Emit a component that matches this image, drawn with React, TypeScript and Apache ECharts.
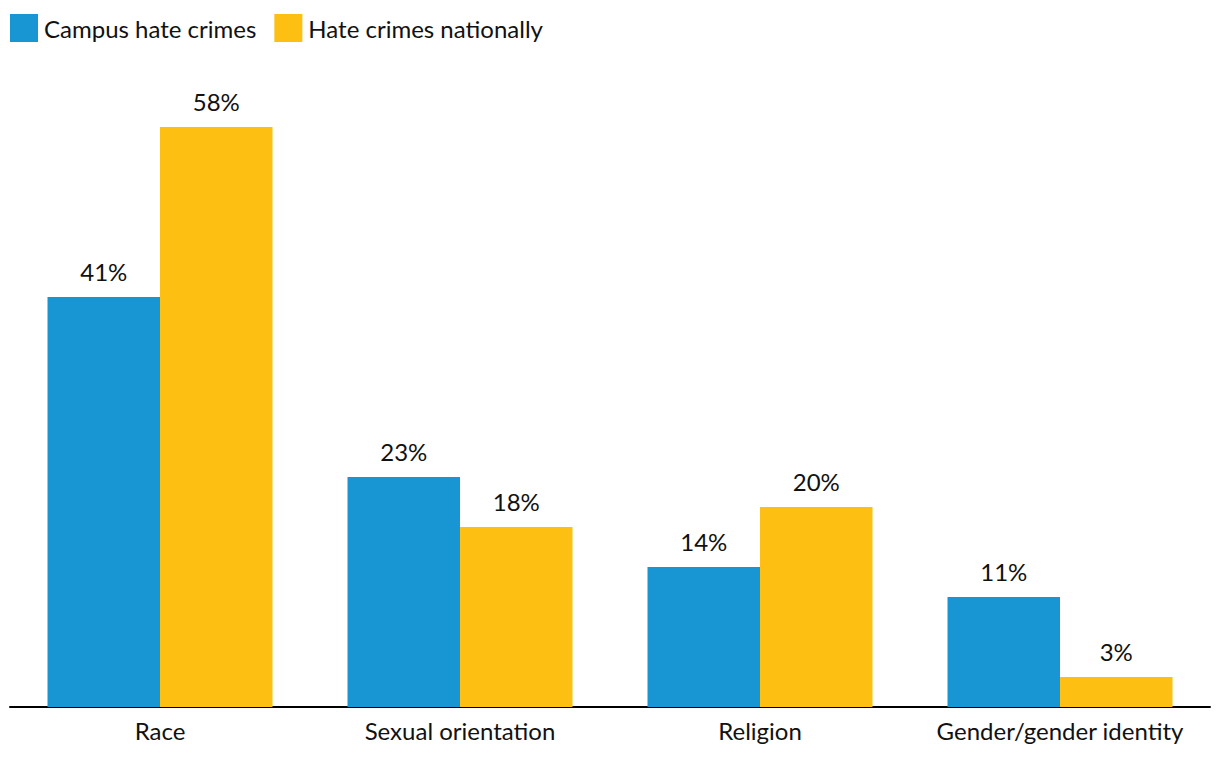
import React, { useEffect, useRef } from "react";
import * as echarts from "echarts";

const categories = ["Race", "Sexual orientation", "Religion", "Gender/gender identity"];
const campusValues = [41, 23, 14, 11];
const nationalValues = [58, 18, 20, 3];
const seriesNames = ["Campus hate crimes", "Hate crimes nationally"];

export default function App() {
  const ref = useRef<HTMLDivElement>(null);
  useEffect(() => {
    if (!ref.current) return;
    const chart = echarts.init(ref.current, undefined, { renderer: "svg" });
    const font = "Lato, 'Noto Sans', sans-serif";
    const labelStyle = {
      show: true,
      position: "top",
      distance: 14,
      formatter: "{c}%",
      fontSize: 24,
      color: "#111",
      fontFamily: font,
    };
    chart.setOption({
      animation: false,
      textStyle: { fontFamily: font },
      legend: {
        left: 10,
        top: 14,
        padding: 0,
        icon: "rect",
        itemWidth: 28,
        itemHeight: 28,
        itemGap: 18,
        textStyle: { fontSize: 24, color: "#111", fontFamily: font, padding: [0, 0, 0, 1] },
        data: seriesNames,
      },
      grid: { left: 10, right: 10, top: 107, bottom: 57 },
      xAxis: {
        type: "category",
        data: categories,
        axisTick: { show: false },
        axisLine: { lineStyle: { color: "#000", width: 2 } },
        axisLabel: { interval: 0, fontSize: 24, color: "#111", margin: 11, fontFamily: font },
      },
      yAxis: {
        type: "value",
        min: 0,
        max: 60,
        show: false,
        splitLine: { show: false },
      },
      series: [
        {
          name: seriesNames[0],
          type: "bar",
          data: campusValues,
          barGap: "0%",
          barCategoryGap: "25%",
          itemStyle: { color: "#1896d3" },
          label: labelStyle,
        },
        {
          name: seriesNames[1],
          type: "bar",
          data: nationalValues,
          barGap: "0%",
          barCategoryGap: "25%",
          itemStyle: { color: "#fcbf12" },
          label: labelStyle,
        },
      ],
    });
    return () => chart.dispose();
  }, []);
  return <div ref={ref} style={{ width: 1220, height: 764, margin: -8 }} />;
}
